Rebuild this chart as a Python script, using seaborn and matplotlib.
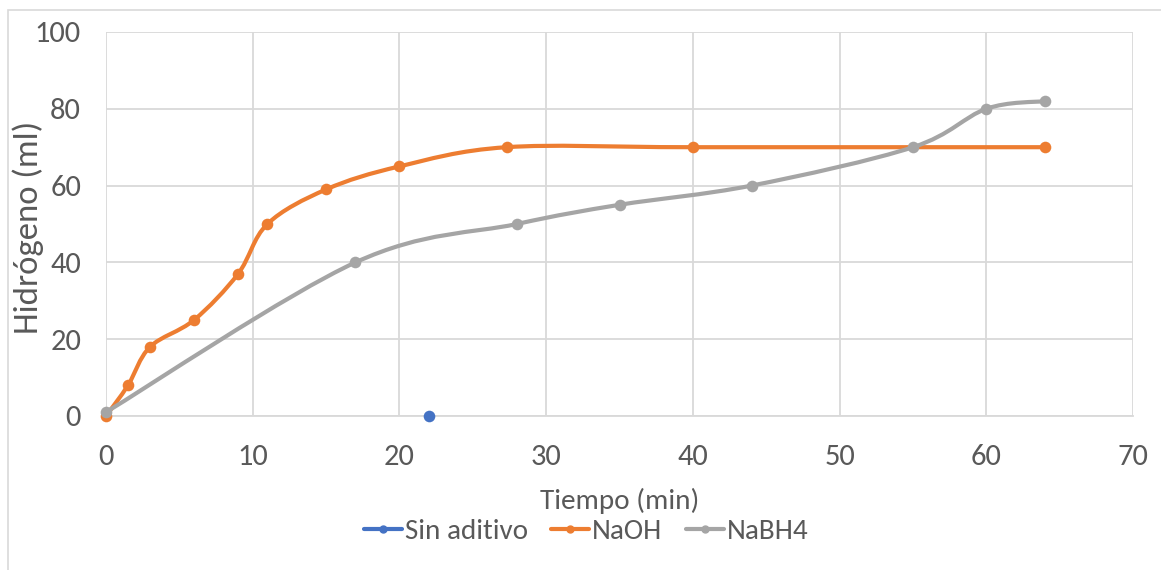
import numpy as np
import matplotlib
matplotlib.use("Agg")
import matplotlib.pyplot as plt
from matplotlib.path import Path
from matplotlib.patches import PathPatch, Rectangle
import seaborn as sns
import pandas as pd

sns.set_theme(style="white")
plt.rcParams['font.family'] = ['Carlito', 'Lato', 'DejaVu Sans']

# Hydrogen produced over time for each additive
sin_t = [22]
sin_h = [0]
naoh_t = [0, 1.5, 3, 6, 9, 11, 15, 20, 27.3, 40, 64]
naoh_h = [0, 8, 18, 25, 37, 50, 59, 65, 70, 70, 70]
nabh4_t = [0, 17, 28, 35, 44, 55, 60, 64]
nabh4_h = [1, 40, 50, 55, 60, 70, 80, 82]

x_ticks = [0, 10, 20, 30, 40, 50, 60, 70]
y_ticks = [0, 20, 40, 60, 80, 100]

c_blue = "#4472c4"
c_orange = "#ed7d31"
c_grey = "#a5a5a5"
c_text = "#595959"
c_grid = "#d9d9d9"

fig = plt.figure(figsize=(11.61, 5.70), dpi=100)
ax = fig.add_axes([106 / 1161, 1 - 416 / 570, (1133 - 106) / 1161, (416 - 32) / 570])

# outer chart frame
fig.patches.append(Rectangle((8 / 1161, -0.1), 1.2, 1 - 10 / 570 + 0.1,
                             transform=fig.transFigure, fill=False,
                             edgecolor=c_grid, lw=1.2))


def smooth_path(xs, ys, k=1 / 6):
    """Cubic Bezier path through the points (Catmull-Rom style smoothing)."""
    pts = np.column_stack([xs, ys]).astype(float)
    n = len(pts)
    verts = [pts[0]]
    codes = [Path.MOVETO]
    for i in range(n - 1):
        p0 = pts[i - 1] if i > 0 else pts[i]
        p1 = pts[i]
        p2 = pts[i + 1]
        p3 = pts[i + 2] if i + 2 < n else pts[i + 1]
        c1 = p1 + (p2 - p0) * k
        c2 = p2 - (p3 - p1) * k
        verts += [c1, c2, p2]
        codes += [Path.CURVE4] * 3
    return Path(verts, codes)


series = [
    ("Sin aditivo", sin_t, sin_h, c_blue),
    ("NaOH", naoh_t, naoh_h, c_orange),
    ("NaBH4", nabh4_t, nabh4_h, c_grey),
]

for name, t, h, col in series:
    if len(t) > 1:
        ax.add_patch(PathPatch(smooth_path(t, h), fill=False, edgecolor=col,
                               lw=3.0, capstyle="round", joinstyle="round", zorder=3))
    df = pd.DataFrame({"t": t, "h": h})
    sns.scatterplot(data=df, x="t", y="h", ax=ax, color=col, s=70,
                    edgecolor=col, linewidth=0, zorder=4, clip_on=False)

ax.set_xlim(0, 70)
ax.set_ylim(0, 100)
ax.set_xticks(x_ticks)
ax.set_yticks(y_ticks)
ax.grid(True, color=c_grid, lw=1.3)
ax.set_axisbelow(True)
for s in ["top", "right", "left"]:
    ax.spines[s].set_visible(False)
ax.spines["bottom"].set_color(c_grid)
ax.spines["bottom"].set_linewidth(1.3)
ax.tick_params(axis="both", length=0, labelsize=22, colors=c_text)
ax.tick_params(axis="x", pad=20)
ax.tick_params(axis="y", pad=18)
ax.set_xlabel("Tiempo (min)", fontsize=21, color=c_text)
ax.xaxis.set_label_coords(0.5, (416 - 488) / 384)
ax.set_ylabel("Hidrógeno (ml)", fontsize=25, color=c_text)
ax.yaxis.set_label_coords((44 - 106) / 1027, 0.49)

handles = [plt.Line2D([0], [0], color=col, lw=3.0, marker="o", markersize=5)
           for _, _, _, col in series]
leg = fig.legend(handles, [s[0] for s in series], loc="center",
                 bbox_to_anchor=(586 / 1161, 1 - 531 / 570), ncol=3,
                 frameon=False, fontsize=21, handlelength=1.3,
                 handletextpad=0.1, columnspacing=0.8)
for txt in leg.get_texts():
    txt.set_color(c_text)

fig.savefig("out.png", dpi=100)
